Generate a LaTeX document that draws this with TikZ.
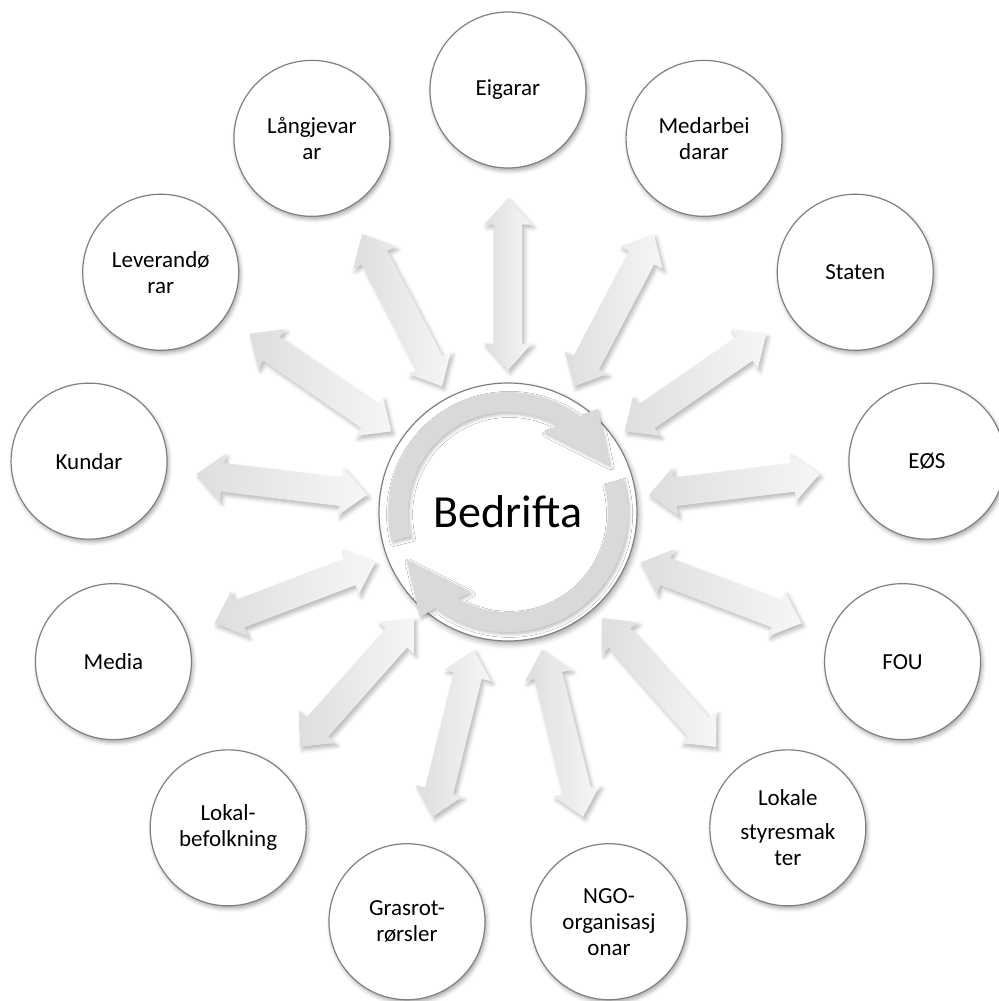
\documentclass[tikz,border=0pt]{standalone}
\usepackage{fontspec}
\setmainfont{Carlito}
\usetikzlibrary{calc,shapes.arrows,shadows.blur}

\begin{document}
\begin{tikzpicture}[x=0.5pt,y=0.5pt]
\tikzstyle{party} = [circle, draw=black!50, line width=0.6pt, fill=white,
minimum size=78pt, inner sep=0pt, align=center, font=\fontsize{11.5}{13}\selectfont,
blur shadow={shadow xshift=0.8pt, shadow yshift=-1.4pt, shadow blur radius=2pt, shadow opacity=35}]
\tikzstyle{core} = [circle, draw=black!50, line width=0.6pt, fill=white,
minimum size=129pt, inner sep=0pt, font=\fontsize{23}{27}\selectfont,
blur shadow={shadow xshift=1pt, shadow yshift=-1.6pt, shadow blur radius=2.5pt, shadow opacity=35}]
\tikzstyle{link} = [double arrow, double arrow head extend=4.75pt, double arrow tip angle=84,
minimum height=86pt, minimum width=23.5pt, inner xsep=0pt, inner ysep=7pt,
left color=gray!26, right color=gray!7,
blur shadow={shadow xshift=1.2pt, shadow yshift=-1.6pt, shadow blur radius=2pt, shadow opacity=28}]
\tikzstyle{ring} = [fill=gray!30,
blur shadow={shadow xshift=0.8pt, shadow yshift=-1.2pt, shadow blur radius=1.5pt, shadow opacity=25}]

\useasboundingbox (-508,-489) rectangle (490,512);

% the firm in the middle
\node [core] (hub) at (0,0) {Bedrifta};
\path [ring] (194:120) arc [start angle=194, end angle=53, radius=120] -- (49:137) -- (25:112)
  -- (66:88) -- (60:100) arc [start angle=60, end angle=194, radius=100] -- cycle;
\path [ring] (16:120) arc [start angle=16, end angle=-127, radius=120] -- (-130:137) -- (-155:112)
  -- (-115:88) -- (-120:100) arc [start angle=-120, end angle=16, radius=100] -- cycle;

% stakeholders, clockwise from the top
\node [party] (eig) at (90:422) {Eigarar};
\node [party] (med) at (62.31:422) {Medarbei\\darar};
\node [party] (sta) at (34.62:422) {Staten};
\node [party] (eos) at (6.92:422) {EØS};
\node [party] (fou) at (-20.77:422) {FOU};
\node [party] (lok) at (-48.46:422) {Lokale\\[4pt]styresmak\\ter};
\node [party] (ngo) at (-76.15:422) {NGO-\\organisasj\\onar};
\node [party] (gra) at (-103.85:422) {Grasrot-\\rørsler};
\node [party] (bef) at (-131.54:422) {Lokal-\\befolkning};
\node [party] (med2) at (-159.23:422) {Media};
\node [party] (kun) at (173.08:422) {Kundar};
\node [party] (lev) at (145.38:422) {Leverandø\\rar};
\node [party] (lan) at (117.69:422) {Långjevar\\ar};

% two-way links
\node [link, rotate=90] (l-eig) at ($(hub.center)!0.54!(eig.center)$) {};
\node [link, rotate=62.31] (l-med) at ($(hub.center)!0.54!(med.center)$) {};
\node [link, rotate=34.62] (l-sta) at ($(hub.center)!0.54!(sta.center)$) {};
\node [link, rotate=6.92] (l-eos) at ($(hub.center)!0.54!(eos.center)$) {};
\node [link, rotate=-20.77] (l-fou) at ($(hub.center)!0.54!(fou.center)$) {};
\node [link, rotate=-48.46] (l-lok) at ($(hub.center)!0.54!(lok.center)$) {};
\node [link, rotate=-76.15] (l-ngo) at ($(hub.center)!0.54!(ngo.center)$) {};
\node [link, rotate=-103.85] (l-gra) at ($(hub.center)!0.54!(gra.center)$) {};
\node [link, rotate=-131.54] (l-bef) at ($(hub.center)!0.54!(bef.center)$) {};
\node [link, rotate=-159.23] (l-med2) at ($(hub.center)!0.54!(med2.center)$) {};
\node [link, rotate=173.08] (l-kun) at ($(hub.center)!0.54!(kun.center)$) {};
\node [link, rotate=145.38] (l-lev) at ($(hub.center)!0.54!(lev.center)$) {};
\node [link, rotate=117.69] (l-lan) at ($(hub.center)!0.54!(lan.center)$) {};
\end{tikzpicture}
\end{document}
